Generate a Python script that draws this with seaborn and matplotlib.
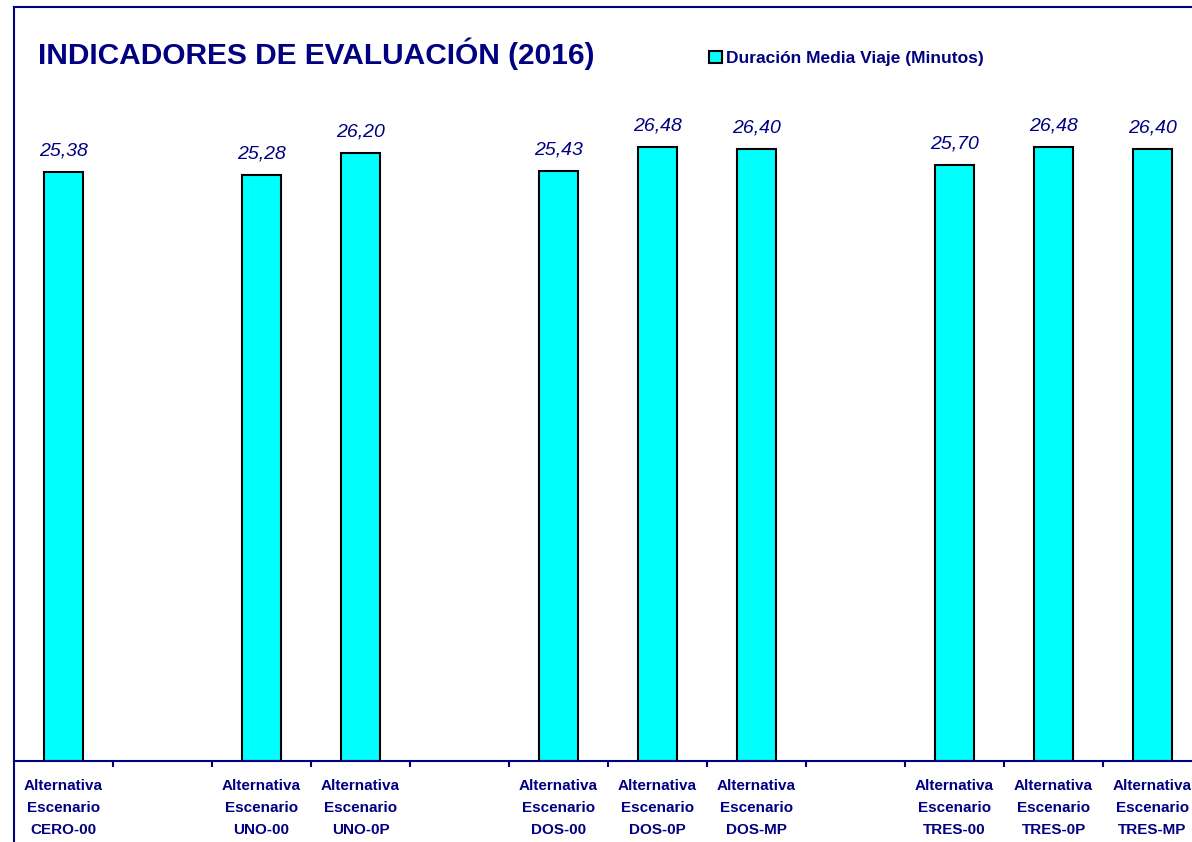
import pandas as pd
import numpy as np
import matplotlib.pyplot as plt
import seaborn as sns
from matplotlib.ticker import FixedLocator
from matplotlib.lines import Line2D

# ------------------------------------------------------------
# Data
# ------------------------------------------------------------
escenarios = ["CERO-00", "UNO-00", "UNO-0P", "DOS-00", "DOS-0P", "DOS-MP",
              "TRES-00", "TRES-0P", "TRES-MP"]
duracion = [25.38, 25.28, 26.20, 25.43, 26.48, 26.40, 25.70, 26.48, 26.40]

# empty slots between the groups of scenarios
orden_escenarios = ["CERO-00", " ", "UNO-00", "UNO-0P", "  ", "DOS-00", "DOS-0P",
                    "DOS-MP", "   ", "TRES-00", "TRES-0P", "TRES-MP"]

titulo = "INDICADORES DE EVALUACIÓN (2016)"
serie = "Duración Media Viaje (Minutos)"

NAVY = "#000080"
CYAN = "#00FFFF"


def etiqueta(nombre):
    if nombre.strip() == "":
        return ""
    return "Alternativa\nEscenario\n" + nombre


df = pd.DataFrame({"Escenario": escenarios, "Duracion": duracion})

# ------------------------------------------------------------
# Plot
# ------------------------------------------------------------
sns.set_style("white")
plt.rcParams["font.family"] = ["Liberation Sans", "DejaVu Sans"]

fig = plt.figure(figsize=(11.92, 8.42), dpi=100)
ax = fig.add_axes([14 / 1192, 81 / 842, 1188 / 1192, 754 / 842])

sns.barplot(data=df, x="Escenario", y="Duracion", order=orden_escenarios,
            color=CYAN, saturation=1, width=0.40, edgecolor="black",
            linewidth=1.5, label=serie, ax=ax)

ax.set_ylim(0, 32.5)
ax.set_xlim(-0.5, len(orden_escenarios) - 0.5)
ax.set_xlabel("")
ax.set_ylabel("")
ax.set_yticks([])

# value labels
for cont in ax.containers:
    textos = [f"{b.get_height():.2f}".replace(".", ",") for b in cont]
    ax.bar_label(cont, labels=textos, padding=9, color=NAVY,
                 fontsize=14, fontstyle="italic")

# category labels centred, tick marks between categories
ax.set_xticks(range(len(orden_escenarios)))
ax.set_xticklabels([etiqueta(n) for n in orden_escenarios], fontsize=11,
                   fontweight="bold", color=NAVY, linespacing=1.72)
ax.tick_params(axis="x", which="major", length=0, pad=13)
ax.xaxis.set_minor_locator(FixedLocator(np.arange(0.5, len(orden_escenarios), 1)))
ax.tick_params(axis="x", which="minor", length=4, width=1.5, color=NAVY,
               direction="out", bottom=True)

for lado in ["left", "top", "bottom"]:
    ax.spines[lado].set_color(NAVY)
    ax.spines[lado].set_linewidth(1.5)
ax.spines["right"].set_visible(False)

# chart border continues below the axis
fig.add_artist(Line2D([14 / 1192, 14 / 1192], [0, 81 / 842], color=NAVY,
                      linewidth=1.5, transform=fig.transFigure))

# title and legend
fig.text(38 / 1192, 1 - 54 / 842, titulo, fontsize=21.5, fontweight="bold",
         color=NAVY, va="center", ha="left")

leg = ax.legend(loc="upper left", bbox_to_anchor=(700 / 1192, 1 - 42 / 842),
                bbox_transform=fig.transFigure, frameon=False,
                handlelength=0.75, handleheight=0.75, handletextpad=0.25,
                borderpad=0, prop={"weight": "bold", "size": 12.5})
for t in leg.get_texts():
    t.set_color(NAVY)

plt.savefig("out.png", dpi=100)
